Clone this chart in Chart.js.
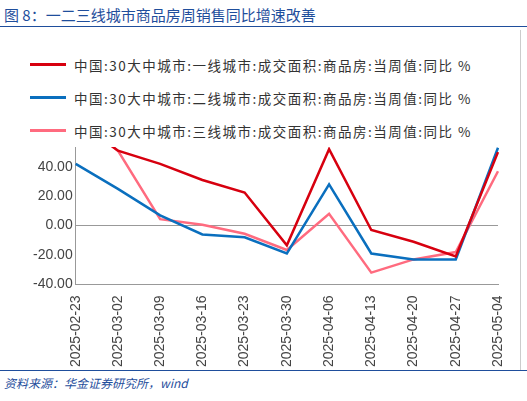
<!DOCTYPE html><html><head><meta charset="utf-8"><script src="https://cdn.jsdelivr.net/npm/chart.js@4"></script>
<style>body{margin:0;width:527px;height:401px;background:#fff;font-family:"Noto Sans CJK SC";position:relative;overflow:hidden}
#t{position:absolute;left:4px;top:4px;font-size:15px;color:#1f4e9c}
#l1{position:absolute;left:0;top:26px;width:527px;border-top:1px solid #1f4e9c}
#l2{position:absolute;left:0;top:370px;width:527px;border-top:1px solid #1f4e9c}
#s{position:absolute;left:4px;top:374px;font-size:12px;color:#1f4e9c;font-style:italic}
#c{position:absolute;left:0;top:30px;width:520px;height:340px}
#rb{position:absolute;left:520px;top:30px;height:340px;border-left:1px solid #ccc}
#lg{position:absolute;left:30px;top:48px;z-index:2}
.it{height:33px;display:flex;align-items:center;font-size:13.5px;color:#333;letter-spacing:1.5px;background:#fff}
.it i{display:inline-block;width:36px;height:3px;margin-right:8px}</style></head><body>
<div id="t">图 8：一二三线城市商品房周销售同比增速改善</div><div id="l1"></div>
<div id="c"><canvas id="cv"></canvas></div><div id="rb"></div><div id="lg"></div>
<div id="l2"></div><div id="s">资料来源：华金证券研究所，wind</div>
<script>
const labels=["2025-02-23","2025-03-02","2025-03-09","2025-03-16","2025-03-23","2025-03-30","2025-04-06","2025-04-13","2025-04-20","2025-04-27","2025-05-04"];
const tier1=[72.8,51,42,31,22.5,-13.4,52,-3,-11,-21,50];
const tier2=[42,25,7,-6,-8,-19,28,-19,-23,-23,53];
const tier3=[72,51,4.4,0.6,-5.6,-16.6,8,-32,-23,-18,37];
const names=["中国:30大中城市:一线城市:成交面积:商品房:当周值:同比 %","中国:30大中城市:二线城市:成交面积:商品房:当周值:同比 %","中国:30大中城市:三线城市:成交面积:商品房:当周值:同比 %"];
const colors=['#d7000f','#0a6fbe','#ff6b7f'];
document.getElementById('lg').innerHTML=names.map((n,i)=>`<div class="it"><i style="background:${colors[i]}"></i>${n}</div>`).join('');
const ds=(l,d,c)=>({label:l,data:d,borderColor:c,backgroundColor:c,borderWidth:2.5,pointRadius:0,tension:0});
new Chart(document.getElementById('cv'),{type:'line',data:{labels,datasets:[ds(names[0],tier1,colors[0]),ds(names[1],tier2,colors[1]),ds(names[2],tier3,colors[2])]},
options:{responsive:true,maintainAspectRatio:false,animation:false,layout:{padding:{left:30,right:22,top:78}},
plugins:{legend:{display:false}},
scales:{y:{min:-40,max:80,ticks:{stepSize:20,color:'#444',font:{size:14},callback:v=>v.toFixed(2)},grid:{drawOnChartArea:true,color:c=>c.tick.value===0?'#999':'rgba(0,0,0,0)',drawTicks:false},border:{color:'#999'}},
x:{ticks:{maxRotation:90,minRotation:90,color:'#444',font:{size:14}},grid:{display:false},border:{color:'#999'}}}}});
</script></body></html>
